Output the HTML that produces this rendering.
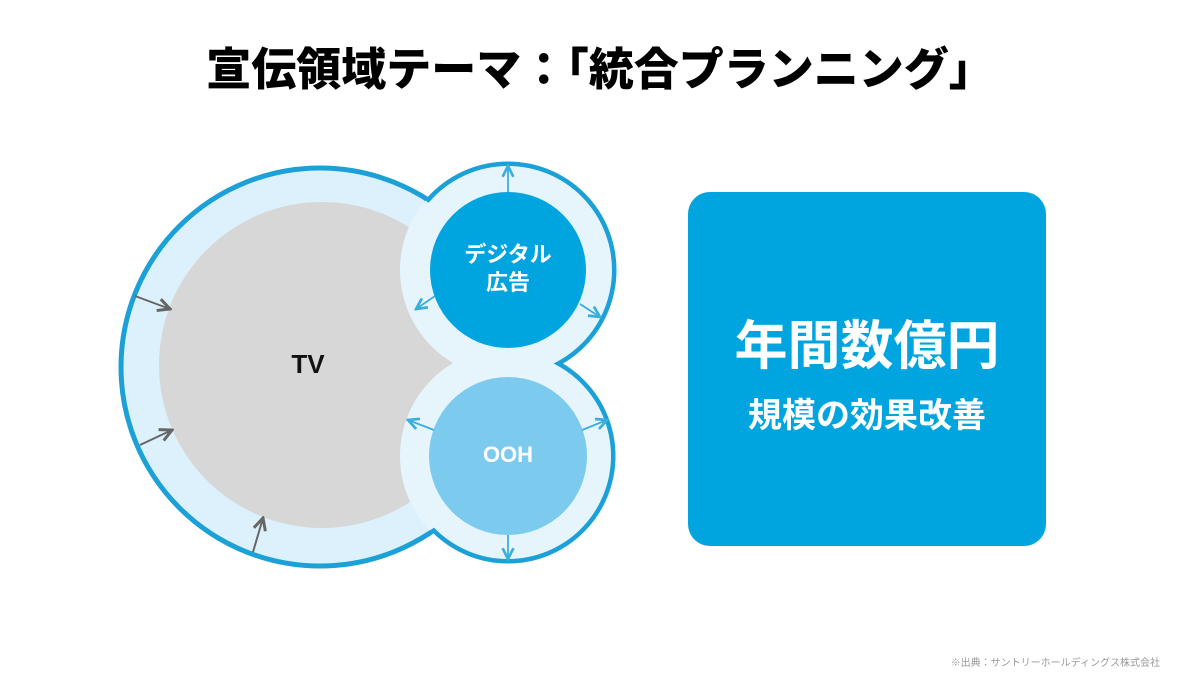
<!DOCTYPE html>
<html><head><meta charset="utf-8"><style>
body{margin:0;width:1200px;height:675px;background:#fff;overflow:hidden;font-family:"Liberation Sans","Noto Sans CJK JP",sans-serif;position:relative}
.t{position:absolute;left:0;width:1200px;top:33px;text-align:center;font-size:45px;font-weight:900;color:#000}
.box{position:absolute;left:688px;top:192px;width:358px;height:354px;border-radius:22px;background:#00a5e0;color:#fff;text-align:center}
.b1{position:absolute;top:112px;width:100%;font-size:53px;font-weight:700}
.b2{position:absolute;top:196px;width:100%;font-size:34px;font-weight:700}
.f{position:absolute;right:40px;top:654px;font-size:10px;color:#999}
</style></head><body>
<div class="t">宣伝領域テーマ：「統合プランニング」</div>
<svg width="1200" height="675" style="position:absolute;left:0;top:0">
<defs><marker id="g" markerWidth="8" markerHeight="8" refX="7" refY="4" orient="auto"><path d="M1,1 L7,4 L1,7" fill="none" stroke="#666" stroke-width="1.5"/></marker>
<marker id="b" markerWidth="8" markerHeight="8" refX="7" refY="4" orient="auto"><path d="M1,1 L7,4 L1,7" fill="none" stroke="#3aaedc" stroke-width="1.5"/></marker>
<clipPath id="u"><circle cx="320" cy="367" r="197"/><circle cx="508" cy="270" r="104"/><circle cx="508" cy="456" r="103"/></clipPath></defs>
<g stroke="#1ba0d8" stroke-width="5" fill="#dcf1fb">
<circle cx="320" cy="367" r="199"/><circle cx="508" cy="270" r="106"/><circle cx="508" cy="456" r="105"/></g>
<g fill="#dcf1fb"><circle cx="320" cy="367" r="196"/><circle cx="508" cy="270" r="103"/><circle cx="508" cy="456" r="102"/></g>
<circle cx="322" cy="365" r="163" fill="#d7d7d7"/>
<g fill="#e6f5fc" clip-path="url(#u)"><circle cx="508" cy="270" r="108"/><circle cx="508" cy="456" r="108"/></g>
<circle cx="508" cy="270" r="78" fill="#00a5e0"/>
<circle cx="508" cy="456" r="79" fill="#7ccbee"/>
<g stroke="#666" stroke-width="2" marker-end="url(#g)">
<line x1="135" y1="296" x2="170" y2="309"/><line x1="140" y1="445" x2="172" y2="430"/><line x1="253" y1="552" x2="263" y2="518"/></g>
<g stroke="#3aaedc" stroke-width="1.8" marker-end="url(#b)">
<line x1="508" y1="192" x2="508" y2="166"/><line x1="435" y1="296" x2="416" y2="309"/><line x1="580" y1="304" x2="600" y2="317"/>
<line x1="434" y1="430" x2="408" y2="420"/><line x1="582" y1="430" x2="607" y2="420"/><line x1="508" y1="535" x2="508" y2="559"/></g>
<text x="308" y="373" font-size="26" font-weight="700" text-anchor="middle" fill="#111" font-family="Liberation Sans,sans-serif">TV</text>
<text x="508" y="262" font-size="22" font-weight="700" text-anchor="middle" fill="#fff" font-family="Liberation Sans,Noto Sans CJK JP,sans-serif">デジタル</text>
<text x="508" y="290" font-size="22" font-weight="700" text-anchor="middle" fill="#fff" font-family="Liberation Sans,Noto Sans CJK JP,sans-serif">広告</text>
<text x="508" y="462" font-size="22" font-weight="700" text-anchor="middle" fill="#fff" font-family="Liberation Sans,sans-serif">OOH</text>
</svg>
<div class="box"><div class="b1">年間数億円</div><div class="b2">規模の効果改善</div></div>
<div class="f">※出典：サントリーホールディングス株式会社</div>
</body></html>
